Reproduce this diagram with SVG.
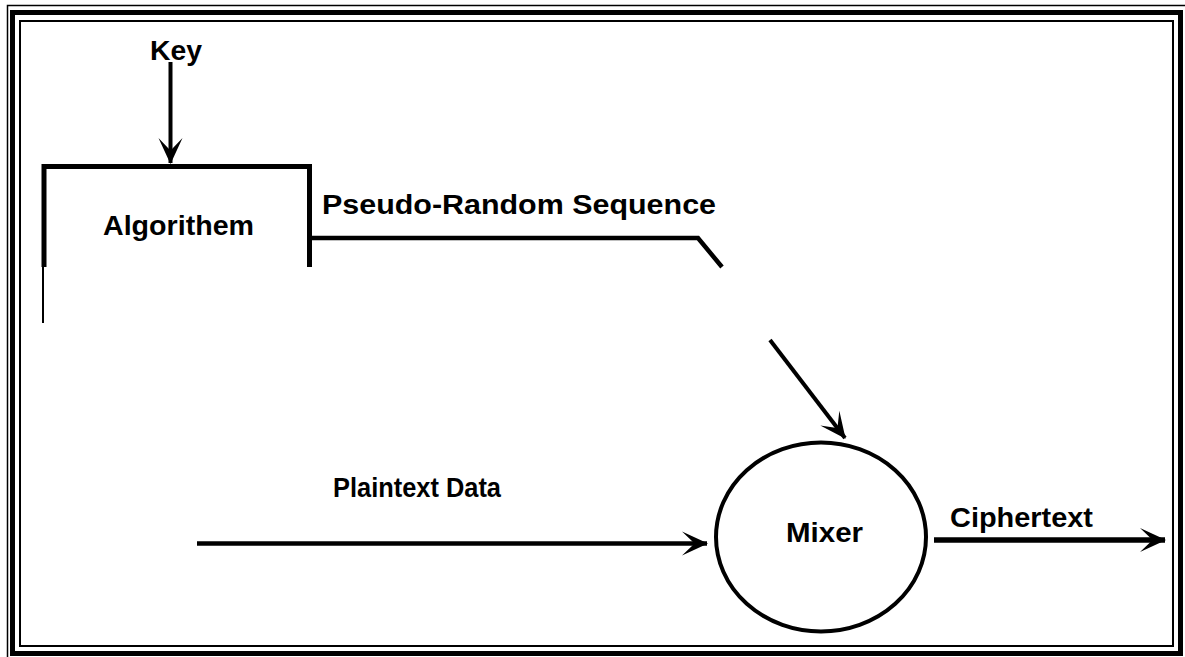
<svg xmlns="http://www.w3.org/2000/svg" width="1185" height="657" viewBox="0 0 1185 657">
  <style>
    .lbl { font-family: "Liberation Sans", Arial, sans-serif; font-weight: bold; font-size: 27px; fill: #000; }
    .ln { stroke: #000; fill: none; stroke-linecap: butt; }
  </style>
  <defs>
    <marker id="barb" viewBox="-26 -14 28 28" refX="0" refY="0" markerWidth="28" markerHeight="28" markerUnits="userSpaceOnUse" orient="auto">
      <path d="M1,0 L-25,-12 L-14,-1.5 L-14,1.5 L-25,12 Z" fill="#000"/>
    </marker>
  </defs>

  <rect width="1185" height="657" fill="#fff"/>

  <!-- page frame -->
  <g id="frame" fill="none" stroke="#000">
    <rect x="7.5" y="5.5" width="1190" height="670" stroke-width="1.5"/>
    <rect x="12.5" y="12.5" width="1168" height="641" stroke-width="5"/>
    <rect x="20" y="21" width="1153" height="625" stroke-width="2"/>
  </g>

  <!-- algorithm block -->
  <g id="algorithm">
    <path class="ln" d="M44,267 V166.5 H309.5 V267" stroke-width="5"/>
    <line class="ln" x1="43" y1="267" x2="43" y2="323" stroke-width="2"/>
    <text class="lbl" x="103" y="235" textLength="151" lengthAdjust="spacingAndGlyphs">Algorithem</text>
  </g>

  <!-- mixer -->
  <g id="mixer">
    <ellipse cx="821" cy="537" rx="105" ry="94.5" fill="none" stroke="#000" stroke-width="4"/>
    <text class="lbl" x="786" y="542" textLength="77" lengthAdjust="spacingAndGlyphs">Mixer</text>
  </g>

  <!-- connectors -->
  <g id="connectors">
    <line class="ln" x1="170.5" y1="62" x2="170.5" y2="163" stroke-width="4" marker-end="url(#barb)"/>
    <path class="ln" d="M312,238 H698 L722,267" stroke-width="4.5"/>
    <line class="ln" x1="770" y1="340" x2="845" y2="438" stroke-width="4" marker-end="url(#barb)"/>
    <line class="ln" x1="197" y1="543.5" x2="707" y2="543.5" stroke-width="4.5" marker-end="url(#barb)"/>
    <line class="ln" x1="934" y1="540" x2="1165" y2="540" stroke-width="5.5" marker-end="url(#barb)"/>
  </g>

  <!-- connector labels -->
  <g id="labels">
    <text class="lbl" x="150" y="60" textLength="52" lengthAdjust="spacingAndGlyphs">Key</text>
    <text class="lbl" x="322" y="214" textLength="394" lengthAdjust="spacingAndGlyphs">Pseudo-Random Sequence</text>
    <text class="lbl" x="333" y="497" textLength="168" lengthAdjust="spacingAndGlyphs">Plaintext Data</text>
    <text class="lbl" x="950" y="527" textLength="143" lengthAdjust="spacingAndGlyphs">Ciphertext</text>
  </g>
</svg>
